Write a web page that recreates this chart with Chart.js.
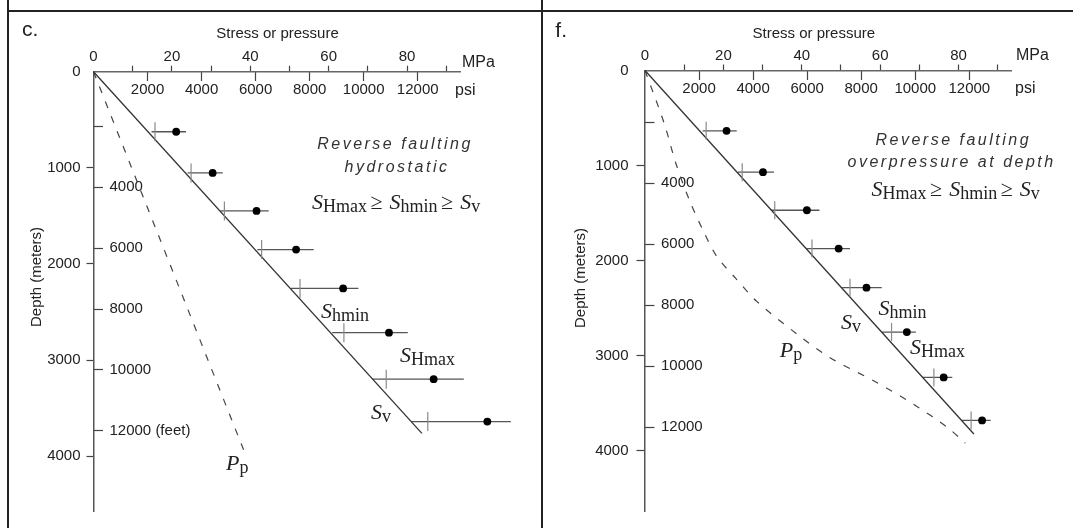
<!DOCTYPE html>
<html>
<head>
<meta charset="utf-8">
<title>Reverse faulting stress profiles</title>
<script src="https://cdn.jsdelivr.net/npm/chart.js@4.4.1/dist/chart.umd.min.js"></script>
<style>
  body { margin: 0; background: #fff; }
  #page { position: relative; width: 1073px; height: 528px; overflow: hidden; background: #fff; }
  canvas { position: absolute; top: 0; }
  #c1 { left: 0; }
  #c2 { left: 541px; }
  .rule { position: absolute; background: #222; }
</style>
</head>
<body>
<div id="page">
  <canvas id="c1" width="541" height="528"></canvas>
  <canvas id="c2" width="532" height="528"></canvas>
  <div class="rule" style="left:7px;top:0;width:2px;height:528px"></div>
  <div class="rule" style="left:541px;top:0;width:2px;height:528px"></div>
  <div class="rule" style="left:7px;top:10px;width:1066px;height:2px"></div>
</div>
<script>
"use strict";

// panel c. - reverse faulting, hydrostatic (depth in m, stress in MPa)
const depthC   = [625, 1053, 1449, 1851, 2255, 2716, 3199, 3640];
const lowC     = [14.8, 24.0, 32.4, 41.8, 50.4, 60.9, 71.2, 81.1];
const highC    = [23.6, 33.0, 44.7, 56.2, 67.6, 80.2, 94.5, 106.5];
const shminC   = [15.7, 24.9, 33.4, 42.9, 52.7, 63.9, 74.7, 85.3];
const shmaxC   = [21.1, 30.4, 41.6, 51.7, 63.7, 75.4, 86.8, 100.5];
const svDepthC = [0, 3763];
const svC      = [0, 83.8];
const ppDepthC = [0, 3934];
const ppC      = [0, 38.3];

// panel f. - reverse faulting, overpressure at depth
const depthF   = [635, 1070, 1471, 1875, 2286, 2753, 3231, 3684];
const lowF     = [14.7, 23.7, 32.2, 41.3, 50.3, 60.4, 70.8, 80.8];
const highF    = [23.4, 32.9, 44.5, 52.3, 60.4, 69.1, 78.4, 88.2];
const shminF   = [15.6, 24.8, 33.1, 42.6, 52.3, 62.9, 73.7, 83.2];
const shmaxF   = [20.8, 30.1, 41.3, 49.4, 56.5, 66.8, 76.2, 86.0];
const svDepthF = [0, 3826];
const svF      = [0, 83.9];
const ppDepthF = [0, 557, 982, 1372, 1691, 1957, 2186, 2430, 2788, 3018, 3284, 3515, 3762, 3922];
const ppF      = [0, 4.9, 7.9, 11.4, 14.9, 18.3, 23.1, 28.5, 39.2, 47.0, 59.1, 68.6, 77.3, 81.7];

// ticks
const mpaTicks    = [0, 10, 20, 30, 40, 50, 60, 70, 80, 90];
const mpaLabels   = [0, 20, 40, 60, 80];
const psiTicks    = [2000, 4000, 6000, 8000, 10000, 12000];
const depthTicks  = [0, 1000, 2000, 3000, 4000];
const feetTicks   = [2000, 4000, 6000, 8000, 10000, 12000];
const feetLabels  = [4000, 6000, 8000, 10000, 12000];

const PSI_PER_MPA = 145.038;
const SANS  = '"Liberation Sans", Arial, sans-serif';
const SERIF = '"Liberation Serif", "Times New Roman", serif';
const INK = '#222';

function sym(main, sub) {
  return [{t: main, font: 'italic 22px ' + SERIF}, {t: sub, font: '18px ' + SERIF, dy: 3}];
}
const GE = [{gap: 3.5}, {t: '\u2265', font: '22px ' + SERIF}, {gap: 7}];
const formula = [].concat(sym('S', 'Hmax'), GE, sym('S', 'hmin'), GE, sym('S', 'v'));

function drawRuns(ctx, x, y, runs) {
  ctx.textAlign = 'left';
  ctx.textBaseline = 'alphabetic';
  for (const r of runs) {
    if (r.gap) { x += r.gap; continue; }
    ctx.font = r.font;
    ctx.fillText(r.t, x, y + (r.dy || 0));
    x += ctx.measureText(r.t).width;
  }
}

function drawNotes(ctx, notes) {
  ctx.save();
  ctx.fillStyle = INK;
  for (const n of notes) {
    if (n.runs) { drawRuns(ctx, n.x, n.y, n.runs); continue; }
    ctx.save();
    ctx.fillStyle = n.color || INK;
    ctx.font = n.font;
    ctx.textAlign = n.align || 'left';
    ctx.textBaseline = n.base || 'alphabetic';
    ctx.letterSpacing = (n.ls || 0) + 'px';
    ctx.translate(n.x, n.y);
    if (n.rot) ctx.rotate(n.rot);
    ctx.fillText(n.t, 0, 0);
    ctx.restore();
  }
  ctx.restore();
}

const notesC = [
  {t: 'c.', x: 22, y: 35.5, font: '21px ' + SANS},
  {t: 'Stress or pressure', x: 277.5, y: 38, font: '15px ' + SANS, align: 'center'},
  {t: 'MPa', x: 462, y: 67, font: '16px ' + SANS},
  {t: 'psi', x: 455, y: 94.5, font: '16px ' + SANS},
  {t: 'Depth (meters)', x: 37, y: 277, font: '15px ' + SANS, align: 'center', base: 'middle', rot: -Math.PI / 2},
  {t: 'Reverse faulting', x: 395, y: 148.5, font: 'italic 16px ' + SANS, align: 'center', ls: 2.5, color: '#333'},
  {t: 'hydrostatic', x: 397, y: 172, font: 'italic 16px ' + SANS, align: 'center', ls: 2.5, color: '#333'},
  {runs: formula, x: 312, y: 209},
  {runs: sym('S', 'hmin'), x: 321, y: 317.5},
  {runs: sym('S', 'Hmax'), x: 400, y: 362},
  {runs: sym('S', 'v'), x: 371, y: 419},
  {runs: sym('P', 'p'), x: 226, y: 470}
];

const notesF = [
  {t: 'f.', x: 14.3, y: 37, font: '21px ' + SANS},
  {t: 'Stress or pressure', x: 272.8, y: 38, font: '15px ' + SANS, align: 'center'},
  {t: 'MPa', x: 475, y: 60, font: '16px ' + SANS},
  {t: 'psi', x: 474, y: 93, font: '16px ' + SANS},
  {t: 'Depth (meters)', x: 39.8, y: 278, font: '15px ' + SANS, align: 'center', base: 'middle', rot: -Math.PI / 2},
  {t: 'Reverse faulting', x: 412.3, y: 145.3, font: 'italic 16px ' + SANS, align: 'center', ls: 2.5, color: '#333'},
  {t: 'overpressure at depth', x: 410.6, y: 167, font: 'italic 16px ' + SANS, align: 'center', ls: 2.5, color: '#333'},
  {runs: formula, x: 330.6, y: 195.8},
  {runs: sym('S', 'hmin'), x: 337.4, y: 315.2},
  {runs: sym('S', 'v'), x: 300, y: 328.6},
  {runs: sym('S', 'Hmax'), x: 369.1, y: 353.9},
  {runs: sym('P', 'p'), x: 238.8, y: 357.2}
];

// fixes the size of an axis box so the plot area lands where the figure has it
const fix = (w, h) => s => {
  if (w !== undefined) s.width = w;
  if (h !== undefined) s.height = h;
  s.paddingLeft = s.paddingRight = s.paddingTop = s.paddingBottom = 0;
};
const setTicks = list => s => { s.ticks = list.map(v => ({value: v})); };
const hideZero = c => (c.tick && c.tick.value === 0) ? 'rgba(0,0,0,0)' : '#444';
const tickFont = {family: SANS, size: 15};

// Chart.js skips points that fall right of the plot area; the figure has one there
const offAreaPoints = {
  id: 'offAreaPoints',
  afterDatasetsDraw(chart) {
    const a = chart.chartArea;
    const wide = {left: 0, top: 0, right: chart.width, bottom: chart.height};
    chart.data.datasets.forEach((ds, i) => {
      chart.getDatasetMeta(i).data.forEach(pt => {
        if (!pt.skip && (pt.x > a.right || pt.x < a.left)) pt.draw(chart.ctx, wide);
      });
    });
  }
};

function panel(id, p) {
  const pts = (xs, ys) => xs.map((x, i) => ({x: x, y: ys[i]}));
  const bars = [];
  p.depth.forEach((d, i) => {
    bars.push({x: p.low[i], y: d}, {x: p.high[i], y: d}, {x: null, y: null});
  });

  new Chart(document.getElementById(id), {
    type: 'scatter',
    data: {
      datasets: [
        { data: pts(p.shmax, p.depth), indexAxis: 'y', pointStyle: 'circle', pointRadius: 3.9,
          backgroundColor: '#000', borderColor: '#000', pointBorderWidth: 0, clip: false },
        { data: pts(p.shmin, p.depth), indexAxis: 'y', pointStyle: 'line', pointRotation: 90, pointRadius: p.crossR,
          borderColor: '#8a8a8a', pointBorderColor: '#8a8a8a', pointBorderWidth: 1.2, clip: false },
        { data: pts(p.sv, p.svDepth), indexAxis: 'y', showLine: true, borderColor: '#333', borderWidth: 1.3,
          pointRadius: 0, clip: false },
        { data: bars, indexAxis: 'y', showLine: true, spanGaps: false, borderColor: '#555', borderWidth: 1.3,
          pointRadius: 0, clip: false },
        { data: pts(p.pp, p.ppDepth), indexAxis: 'y', showLine: true, borderColor: '#444', borderWidth: 1.2,
          borderDash: [7, 9], tension: p.ppTension, pointRadius: 0, clip: false }
      ]
    },
    options: {
      responsive: false,
      animation: false,
      events: [],
      layout: { padding: {left: 0, top: 0, right: p.padRight, bottom: 17} },
      plugins: { legend: {display: false}, tooltip: {enabled: false} },
      scales: {
        x: {
          type: 'linear', position: 'top', min: 0, max: p.xMax, bounds: 'data',
          afterBuildTicks: setTicks(mpaTicks), afterFit: fix(undefined, p.top),
          ticks: { callback: v => mpaLabels.includes(v) ? String(v) : '', font: tickFont, color: INK,
                   padding: 0, maxRotation: 0, autoSkip: false },
          grid: { drawOnChartArea: false, tickLength: 6, tickWidth: 1.2, tickColor: hideZero },
          border: { color: '#666', width: 1.5 }
        },
        psi: {
          type: 'linear', axis: 'x', position: {y: 0}, min: 0, max: p.xMax * PSI_PER_MPA, bounds: 'data',
          afterBuildTicks: setTicks(psiTicks), afterFit: fix(undefined, 0),
          ticks: { callback: v => String(v), font: tickFont, color: INK, padding: 0, maxRotation: 0, autoSkip: false },
          grid: { drawOnChartArea: false, tickLength: 9, tickWidth: 1.2, tickColor: '#444' },
          border: { display: false }
        },
        y: {
          type: 'linear', position: 'left', reverse: true, min: 0, max: p.yMax, bounds: 'data', weight: 1,
          afterBuildTicks: setTicks(depthTicks), afterFit: fix(p.left),
          ticks: { callback: v => String(v), font: tickFont, color: INK, padding: p.depthPad, autoSkip: false },
          grid: { drawOnChartArea: false, tickLength: p.depthTick, tickWidth: 1.2, tickColor: hideZero },
          border: { color: '#555', width: 1.5 }
        },
        ft: {
          type: 'linear', axis: 'y', position: 'left', reverse: true, min: p.ftMin, max: p.ftMax,
          bounds: 'data', weight: 0,
          afterBuildTicks: setTicks(feetTicks), afterFit: fix(0),
          ticks: { callback: v => feetLabels.includes(v) ? (v === 12000 ? '12000' + p.feetUnit : String(v)) : '',
                   font: tickFont, color: INK, mirror: true, padding: 16, autoSkip: false },
          grid: { drawOnChartArea: false, tickLength: -9.5, tickWidth: 1.2, tickColor: '#444' },
          border: { display: false }
        }
      }
    },
    plugins: [offAreaPoints, { id: 'notes', afterDraw: chart => drawNotes(chart.ctx, p.notes) }]
  });
}

panel('c1', {
  depth: depthC, low: lowC, high: highC, shmin: shminC, shmax: shmaxC,
  sv: svC, svDepth: svDepthC, pp: ppC, ppDepth: ppDepthC, ppTension: 0,
  xMax: 93.6, yMax: 4571, ftMin: 204, ftMax: 14633, feetUnit: ' (feet)',
  left: 93.5, top: 71.7, padRight: 80.7, depthPad: 6, depthTick: 7, crossR: 9.5,
  notes: notesC
});

panel('c2', {
  depth: depthF, low: lowF, high: highF, shmin: shminF, shmax: shmaxF,
  sv: svF, svDepth: svDepthF, pp: ppF, ppDepth: ppDepthF, ppTension: 0.3,
  xMax: 93.4, yMax: 4637, ftMin: 299, ftMax: 14754, feetUnit: '',
  left: 104, top: 70.5, padRight: 61.9, depthPad: 8, depthTick: 8.5, crossR: 9,
  notes: notesF
});
</script>
</body>
</html>
